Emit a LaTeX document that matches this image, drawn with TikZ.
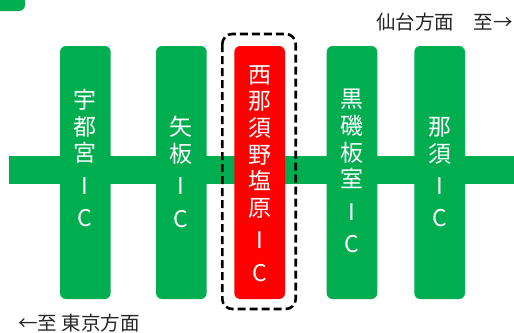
\documentclass[tikz,border=0pt]{standalone}
\usepackage{fontspec}
\setmainfont{Noto Sans CJK JP}
\definecolor{icgreen}{HTML}{00AD4F}
\definecolor{icred}{HTML}{FF0000}
\definecolor{txtgray}{HTML}{262626}
\tikzset{
  pillar/.style={fill=icgreen, rounded corners=6pt},
  hlpillar/.style={fill=icred, rounded corners=6pt},
  iclabel/.style={text=white, inner sep=0pt, anchor=north, align=center,
    font=\fontsize{23}{26.7}\selectfont},
  dirlabel/.style={text=txtgray, inner sep=0pt, font=\fontsize{19.5}{24}\selectfont},
  focusbox/.style={draw=black, line width=2.6pt, dash pattern=on 8pt off 4pt, rounded corners=10pt}
}
\begin{document}
\begin{tikzpicture}[x=1pt,y=-1pt]
\useasboundingbox (0,0) rectangle (514,332);
% top-left green tab
\fill[icgreen, rounded corners=6pt] (-10,-10) rectangle (25,11);
% main road
\fill[icgreen] (9,156) rectangle (514,184.3);
% pillars
\fill[pillar] (60,46) rectangle (110.7,299);
\fill[pillar] (156,46) rectangle (206.7,299);
\fill[hlpillar] (234.3,46) rectangle (285,299);
\fill[pillar] (326.7,46) rectangle (377.3,299);
\fill[pillar] (414.3,46) rectangle (465,299);
% focus box
\draw[focusbox] (222.3,34) rectangle (295.7,309);
% labels
\node[iclabel] (utsunomiya) at (85.3,89) {宇\\都\\宮\\[5.5pt]I\\[5.8pt]C};
\node[iclabel] (yaita) at (181.3,116) {矢\\板\\[5.5pt]I\\[5.8pt]C};
\node[iclabel] (nishinasu) at (259.7,65) {西\\那\\須\\野\\塩\\原\\[5.5pt]I\\[5.8pt]C};
\node[iclabel] (kuroiso) at (352,89) {黒\\磯\\板\\室\\[5.5pt]I\\[5.8pt]C};
\node[iclabel] (nasu) at (439.7,117) {那\\須\\[5.5pt]I\\[5.8pt]C};
\node[dirlabel, anchor=north east] (sendai) at (513,13) {仙台方面　至→};
\node[dirlabel, anchor=north west] (tokyo) at (18,313.5) {←至 東京方面};
\end{tikzpicture}
\end{document}
